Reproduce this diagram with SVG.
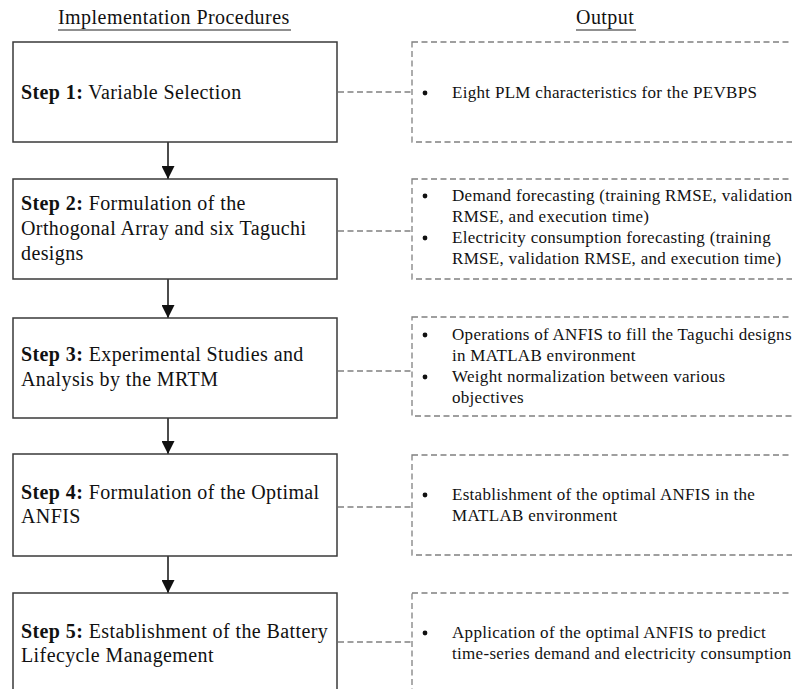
<svg xmlns="http://www.w3.org/2000/svg" width="792" height="689" viewBox="0 0 792 689">
<defs>
<style>
.t{font-family:"Liberation Serif","Times New Roman",serif;fill:#111}
.hd{font-size:20px;letter-spacing:0.45px}
.st{font-size:20px;letter-spacing:0.4px}
.o{font-size:17px;letter-spacing:0.3px}
.b{font-weight:bold}
.box{fill:#fff;stroke:#3a3a3a;stroke-width:1.5}
.dbox{fill:none;stroke:#808080;stroke-width:1.3;stroke-dasharray:6 3.5}
.dl{fill:none;stroke:#808080;stroke-width:1.3;stroke-dasharray:6 3.5}
.arr{stroke:#111;stroke-width:1.5;marker-end:url(#ah)}
.ul{stroke:#222;stroke-width:1.2}
</style>
<marker id="ah" viewBox="0 0 13 13" markerWidth="13" markerHeight="13" refX="13" refY="6.5" orient="auto" markerUnits="userSpaceOnUse">
<path d="M0,0 L13,6.5 L0,13 Z" fill="#111"/>
</marker>
</defs>
<rect width="792" height="689" fill="#fff"/>
<g id="titles">
<text class="t hd" x="58" y="24">Implementation Procedures</text>
<line class="ul" x1="58" y1="30" x2="291" y2="30"/>
<text class="t hd" x="576" y="24">Output</text>
<line class="ul" x1="576" y1="30" x2="636" y2="30"/>
</g>
<g id="connectors">
<line class="arr" x1="168" y1="142" x2="168" y2="179"/>
<line class="arr" x1="168" y1="279" x2="168" y2="318"/>
<line class="arr" x1="168" y1="418" x2="168" y2="454"/>
<line class="arr" x1="168" y1="556" x2="168" y2="593"/>
<line class="dl" x1="338" y1="92" x2="412" y2="92"/>
<line class="dl" x1="338" y1="231" x2="412" y2="231"/>
<line class="dl" x1="338" y1="371" x2="412" y2="371"/>
<line class="dl" x1="338" y1="507" x2="412" y2="507"/>
<line class="dl" x1="338" y1="642" x2="412" y2="642"/>
</g>
<g id="step1">
<rect class="box" x="13" y="42" width="324" height="100"/>
<text class="t st" x="21" y="99"><tspan class="b">Step 1:</tspan> Variable Selection</text>
</g>
<g id="step2">
<rect class="box" x="13" y="179" width="324" height="100"/>
<text class="t st" x="21" y="210"><tspan class="b">Step 2:</tspan> Formulation of the</text>
<text class="t st" x="21" y="235">Orthogonal Array and six Taguchi</text>
<text class="t st" x="21" y="260">designs</text>
</g>
<g id="step3">
<rect class="box" x="13" y="318" width="324" height="100"/>
<text class="t st" x="21" y="361"><tspan class="b">Step 3:</tspan> Experimental Studies and</text>
<text class="t st" x="21" y="386">Analysis by the MRTM</text>
</g>
<g id="step4">
<rect class="box" x="13" y="454" width="324" height="102"/>
<text class="t st" x="21" y="499"><tspan class="b">Step 4:</tspan> Formulation of the Optimal</text>
<text class="t st" x="21" y="523">ANFIS</text>
</g>
<g id="step5">
<rect class="box" x="13" y="593" width="324" height="110"/>
<text class="t st" x="21" y="638"><tspan class="b">Step 5:</tspan> Establishment of the Battery</text>
<text class="t st" x="21" y="662">Lifecycle Management</text>
</g>
<g id="out1">
<rect class="dbox" x="412" y="42" width="392" height="100"/>
<circle cx="425" cy="93" r="2.4" fill="#111"/>
<text class="t o" x="452" y="98">Eight PLM characteristics for the PEVBPS</text>
</g>
<g id="out2">
<rect class="dbox" x="412" y="179" width="392" height="100"/>
<circle cx="425" cy="196" r="2.4" fill="#111"/>
<text class="t o" x="452" y="201">Demand forecasting (training RMSE, validation</text>
<text class="t o" x="452" y="222">RMSE, and execution time)</text>
<circle cx="425" cy="238" r="2.4" fill="#111"/>
<text class="t o" x="452" y="243">Electricity consumption forecasting (training</text>
<text class="t o" x="452" y="264">RMSE, validation RMSE, and execution time)</text>
</g>
<g id="out3">
<rect class="dbox" x="412" y="317" width="392" height="99"/>
<circle cx="425" cy="335" r="2.4" fill="#111"/>
<text class="t o" x="452" y="340">Operations of ANFIS to fill the Taguchi designs</text>
<text class="t o" x="452" y="361">in MATLAB environment</text>
<circle cx="425" cy="377" r="2.4" fill="#111"/>
<text class="t o" x="452" y="382">Weight normalization between various</text>
<text class="t o" x="452" y="403">objectives</text>
</g>
<g id="out4">
<rect class="dbox" x="412" y="455" width="392" height="100"/>
<circle cx="425" cy="495" r="2.4" fill="#111"/>
<text class="t o" x="452" y="500">Establishment of the optimal ANFIS in the</text>
<text class="t o" x="452" y="521">MATLAB environment</text>
</g>
<g id="out5">
<rect class="dbox" x="412" y="593" width="392" height="110"/>
<circle cx="425" cy="633" r="2.4" fill="#111"/>
<text class="t o" x="452" y="638">Application of the optimal ANFIS to predict</text>
<text class="t o" x="452" y="659">time-series demand and electricity consumption</text>
</g>
</svg>
